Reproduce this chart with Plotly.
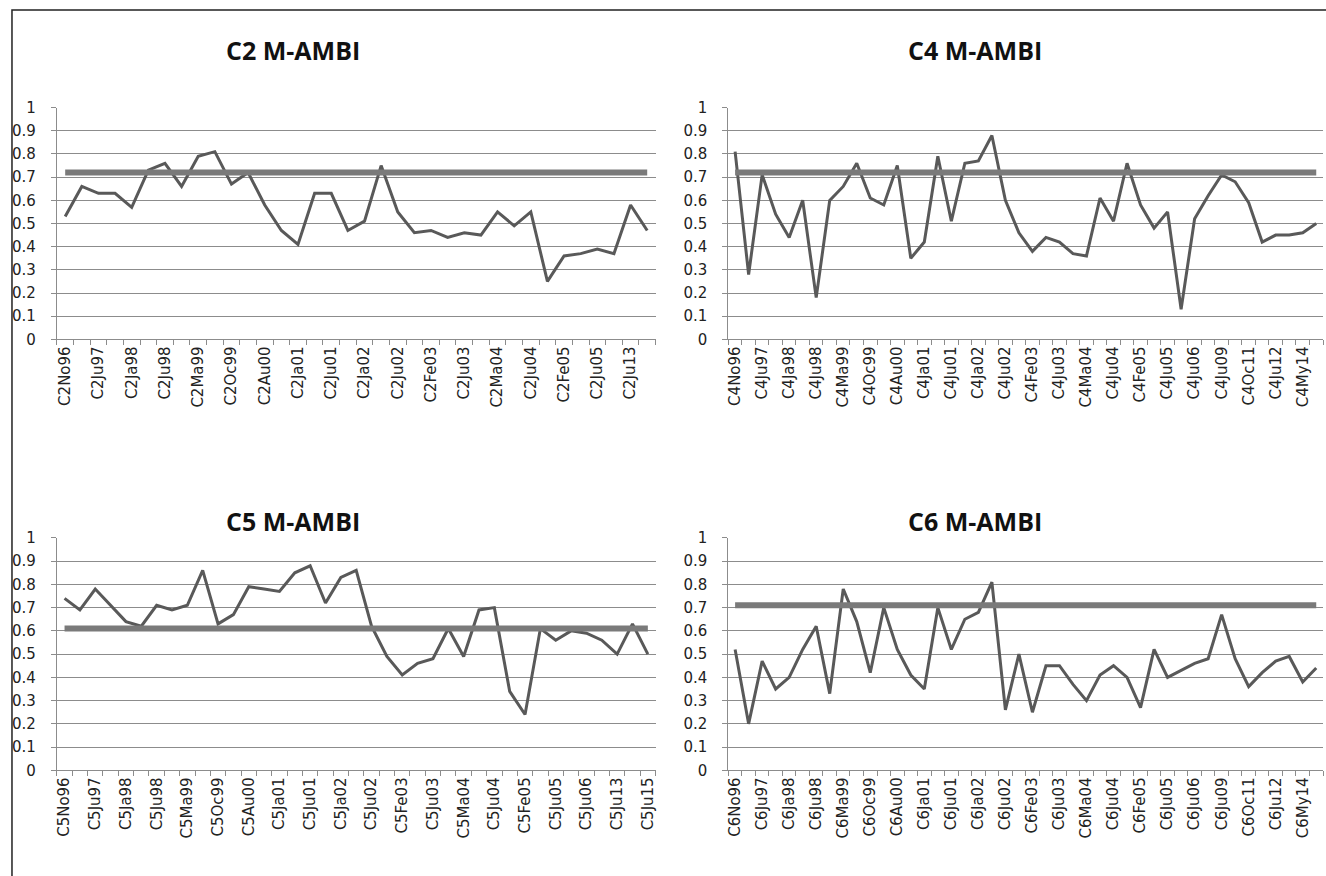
import plotly.graph_objects as go

W, H = 1326, 876

# ---------------- data ----------------
c2_labels = ["C2No96", "C2Ju97", "C2Ja98", "C2Ju98", "C2Ma99", "C2Oc99", "C2Au00", "C2Ja01", "C2Ju01",
             "C2Ja02", "C2Ju02", "C2Fe03", "C2Ju03", "C2Ma04", "C2Ju04", "C2Fe05", "C2Ju05", "C2Ju13"]
c2_values = [0.53, 0.66, 0.63, 0.63, 0.57, 0.73, 0.76, 0.66, 0.79, 0.81,
             0.67, 0.72, 0.58, 0.47, 0.41, 0.63, 0.63, 0.47, 0.51, 0.75,
             0.55, 0.46, 0.47, 0.44, 0.46, 0.45, 0.55, 0.49, 0.55, 0.25,
             0.36, 0.37, 0.39, 0.37, 0.58, 0.47]
c2_threshold = 0.72

c4_labels = ["C4No96", "C4Ju97", "C4Ja98", "C4Ju98", "C4Ma99", "C4Oc99", "C4Au00", "C4Ja01", "C4Ju01",
             "C4Ja02", "C4Ju02", "C4Fe03", "C4Ju03", "C4Ma04", "C4Ju04", "C4Fe05", "C4Ju05", "C4Ju06",
             "C4Ju09", "C4Oc11", "C4Ju12", "C4My14"]
c4_values = [0.81, 0.28, 0.71, 0.54, 0.44, 0.60, 0.18, 0.60, 0.66, 0.76,
             0.61, 0.58, 0.75, 0.35, 0.42, 0.79, 0.51, 0.76, 0.77, 0.88,
             0.60, 0.46, 0.38, 0.44, 0.42, 0.37, 0.36, 0.61, 0.51, 0.76,
             0.58, 0.48, 0.55, 0.13, 0.52, 0.62, 0.71, 0.68, 0.59, 0.42,
             0.45, 0.45, 0.46, 0.50]
c4_threshold = 0.72

c5_labels = ["C5No96", "C5Ju97", "C5Ja98", "C5Ju98", "C5Ma99", "C5Oc99", "C5Au00", "C5Ja01", "C5Ju01",
             "C5Ja02", "C5Ju02", "C5Fe03", "C5Ju03", "C5Ma04", "C5Ju04", "C5Fe05", "C5Ju05", "C5Ju06",
             "C5Ju13", "C5Ju15"]
c5_values = [0.74, 0.69, 0.78, 0.71, 0.64, 0.62, 0.71, 0.69, 0.71, 0.86,
             0.63, 0.67, 0.79, 0.78, 0.77, 0.85, 0.88, 0.72, 0.83, 0.86,
             0.62, 0.49, 0.41, 0.46, 0.48, 0.61, 0.49, 0.69, 0.70, 0.34,
             0.24, 0.61, 0.56, 0.60, 0.59, 0.56, 0.50, 0.63, 0.50]
c5_threshold = 0.61

c6_labels = ["C6No96", "C6Ju97", "C6Ja98", "C6Ju98", "C6Ma99", "C6Oc99", "C6Au00", "C6Ja01", "C6Ju01",
             "C6Ja02", "C6Ju02", "C6Fe03", "C6Ju03", "C6Ma04", "C6Ju04", "C6Fe05", "C6Ju05", "C6Ju06",
             "C6Ju09", "C6Oc11", "C6Ju12", "C6My14"]
c6_values = [0.52, 0.20, 0.47, 0.35, 0.40, 0.52, 0.62, 0.33, 0.78, 0.64,
             0.42, 0.70, 0.52, 0.41, 0.35, 0.70, 0.52, 0.65, 0.68, 0.81,
             0.26, 0.50, 0.25, 0.45, 0.45, 0.37, 0.30, 0.41, 0.45, 0.40,
             0.27, 0.52, 0.40, 0.43, 0.46, 0.48, 0.67, 0.48, 0.36, 0.42,
             0.47, 0.49, 0.38, 0.44]
c6_threshold = 0.71

y_ticks = [0, 0.1, 0.2, 0.3, 0.4, 0.5, 0.6, 0.7, 0.8, 0.9, 1]
y_ticktext = ["0", "0.1", "0.2", "0.3", "0.4", "0.5", "0.6", "0.7", "0.8", "0.9", "1"]

# ---------------- layout geometry (pixels) ----------------
panels = [
    dict(title="C2 M-AMBI", vals=c2_values, labels=c2_labels, thr=c2_threshold,
         x0=55, x1=655, ytop=100.7, ybot=337.3, tx=292, ty=42),
    dict(title="C4 M-AMBI", vals=c4_values, labels=c4_labels, thr=c4_threshold,
         x0=728, x1=1324, ytop=100.7, ybot=337.3, tx=975, ty=42),
    dict(title="C5 M-AMBI", vals=c5_values, labels=c5_labels, thr=c5_threshold,
         x0=55, x1=655, ytop=540, ybot=777.3, tx=292, ty=523),
    dict(title="C6 M-AMBI", vals=c6_values, labels=c6_labels, thr=c6_threshold,
         x0=728, x1=1324, ytop=540, ybot=777.3, tx=975, ty=523),
]

LINE_COL = "#595959"
THR_COL = "#7a7a7a"
AX_COL = "#8c8c8c"
TXT_COL = "#222222"

fig = go.Figure()
layout_axes = {}
annotations = []

for k, p in enumerate(panels, start=1):
    xn = "x" if k == 1 else f"x{k}"
    yn = "y" if k == 1 else f"y{k}"
    xkey = "xaxis" if k == 1 else f"xaxis{k}"
    ykey = "yaxis" if k == 1 else f"yaxis{k}"
    n = len(p["vals"])
    xs = list(range(n))

    fig.add_trace(go.Scatter(x=xs, y=p["vals"], mode="lines",
                             line=dict(color=LINE_COL, width=3),
                             xaxis=xn, yaxis=yn, showlegend=False))
    fig.add_trace(go.Scatter(x=[xs[0], xs[-1]], y=[p["thr"], p["thr"]], mode="lines",
                             line=dict(color=THR_COL, width=6),
                             xaxis=xn, yaxis=yn, showlegend=False))

    layout_axes[xkey] = dict(
        domain=[p["x0"] / W, p["x1"] / W], range=[-0.5, n - 0.5], anchor=yn,
        tickmode="array", tickvals=list(range(0, n, 2)), ticktext=p["labels"],
        tickangle=-90, ticks="", showgrid=False, zeroline=False,
        showline=True, linecolor=AX_COL, linewidth=1,
        tickfont=dict(family="DejaVu Sans", size=15, color=TXT_COL),
        minor=dict(tickmode="array", tickvals=[i - 0.5 for i in range(n + 1)],
                   ticks="outside", ticklen=5, tickcolor=AX_COL, tickwidth=1, showgrid=False),
        fixedrange=True,
    )
    layout_axes[ykey] = dict(
        domain=[1 - p["ybot"] / H, 1 - p["ytop"] / H], range=[0, 1], anchor=xn,
        tickmode="array", tickvals=y_ticks, ticktext=y_ticktext,
        ticks="outside", ticklen=5, tickcolor=AX_COL, tickwidth=1,
        showgrid=True, gridcolor=AX_COL, gridwidth=1, zeroline=False,
        showline=True, linecolor=AX_COL, linewidth=1,
        tickfont=dict(family="DejaVu Sans", size=15, color=TXT_COL),
        ticklabelstandoff=12, fixedrange=True,
    )
    annotations.append(dict(text=f"<b>{p['title']}</b>", xref="paper", yref="paper",
                            x=p["tx"] / W, y=1 - p["ty"] / H, xanchor="center", yanchor="middle",
                            showarrow=False, font=dict(family="Open Sans", size=25, color="#111")))

fig.update_layout(
    width=W, height=H, margin=dict(l=0, r=0, t=0, b=0),
    paper_bgcolor="white", plot_bgcolor="white",
    annotations=annotations,
    shapes=[dict(type="rect", xref="paper", yref="paper",
                 x0=10 / W, x1=1.02, y0=-0.02, y1=1 - 1 / H,
                 line=dict(color="#222", width=1.5), layer="below")],
    **layout_axes,
)

fig.write_html("out.html", config={"displayModeBar": False},
               post_script="document.body.style.margin='0';")
